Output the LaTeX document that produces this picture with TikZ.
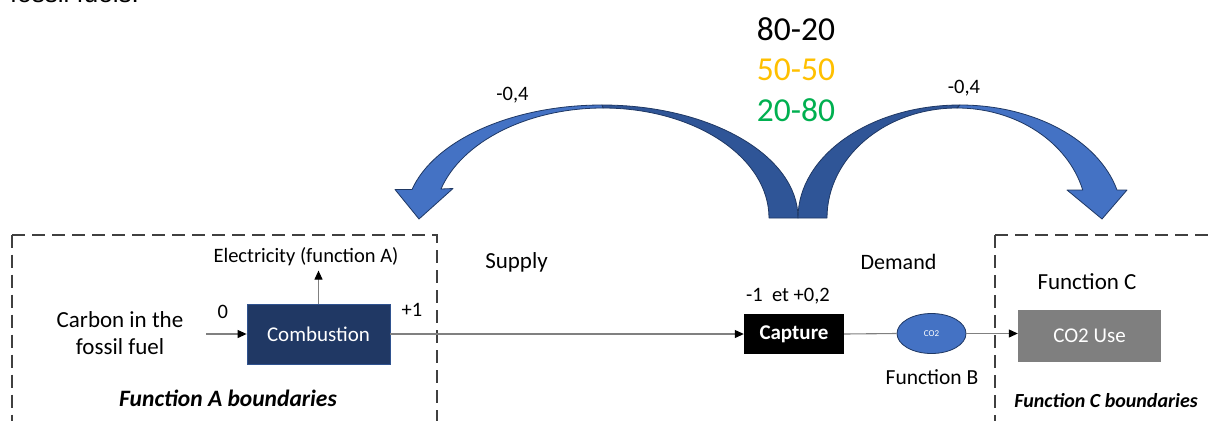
\documentclass[tikz,border=0pt]{standalone}
\usepackage{fontspec}
\setmainfont{Carlito}
\newfontfamily\arialfont{Liberation Sans}
\usetikzlibrary{arrows.meta,shapes.geometric}
\definecolor{navy}{HTML}{203864}
\definecolor{navyedge}{HTML}{2F528F}
\definecolor{arrowlight}{HTML}{4472C4}
\definecolor{arrowdark}{HTML}{2F5597}
\definecolor{arrowedge}{HTML}{1F3864}
\definecolor{gold}{HTML}{FFC000}
\definecolor{grn}{HTML}{00B050}
\definecolor{usegray}{HTML}{7F7F7F}
\definecolor{dashgray}{HTML}{404040}
\definecolor{linegray}{HTML}{808080}
\begin{document}
\begin{tikzpicture}[x=1pt,y=-1pt,
  lbl/.style={inner sep=0pt, text=black, font=\fontsize{20.5}{26}\selectfont},
  bound/.style={draw=dashgray, line width=2pt, dash pattern=on 13pt off 7pt},
  conn/.style={draw=linegray, line width=1.1pt, -{Triangle[length=9pt,width=8pt,color=black]}},
  plain/.style={draw=linegray, line width=1.1pt},
  procbox/.style={inner sep=0pt, text=white, font=\fontsize{21}{25}\selectfont},
  bigarrow/.style={draw=arrowedge, line width=0.8pt, line join=round}
]
\path[use as bounding box, clip] (0,0) rectangle (1209,421);
\fill[white] (0,0) rectangle (1209,421);

% cropped text at the top
\node[anchor=base west, inner sep=0pt, font=\arialfont\fontsize{26}{30}\selectfont] (topfrag) at (10,2) {fossil fuels.};

% boundaries
\draw[bound] (12,234.5) -- (12,421);
\draw[bound] (12,234.5) -- (436.5,234.5) -- (436.5,421);
\draw[bound] (995,235) -- (995,421);
\draw[bound] (995,235) -- (1209,235);

% scenario numbers
\node[lbl, font=\fontsize{33.5}{40}\selectfont] (s1) at (796,29) {80-20};
\node[lbl, font=\fontsize{33.5}{40}\selectfont, text=gold] (s2) at (796,70) {50-50};
\node[lbl, font=\fontsize{33.5}{40}\selectfont, text=grn] (s3) at (796,110) {20-80};

% left curved arrow
\filldraw[bigarrow, fill=arrowdark] (798,218) .. controls (798,155.6) and (710.2,105) .. (602,105)
  -- (603,108) .. controls (694.6,108) and (769,157.3) .. (769,218) -- cycle;
\filldraw[bigarrow, fill=arrowlight] (602,105) .. controls (512.5,105) and (434.3,140) .. (412,189.5)
  -- (395,189.5) -- (419,219) -- (453,188.5) -- (441,189)
  .. controls (461.7,141.7) and (527.6,108) .. (603,108) -- cycle;

% right curved arrow
\filldraw[bigarrow, fill=arrowdark] (798,218) .. controls (798,155.6) and (870.6,105) .. (960,105)
  -- (957,108) .. controls (885.2,108) and (827,157.3) .. (827,218) -- cycle;
\filldraw[bigarrow, fill=arrowlight] (960,105) .. controls (1034,105) and (1098.6,140) .. (1117,190)
  -- (1127,190) -- (1102,219) -- (1067,190) -- (1082.7,190)
  .. controls (1067.7,141.7) and (1016,108) .. (957,108) -- cycle;

\node[lbl] (wl) at (512.5,95) {-0,4};
\node[lbl] (wr) at (964,88) {-0,4};

% function A
\node[lbl, align=center, font=\fontsize{23}{27}\selectfont] (carbon) at (120,333) {Carbon in the\\fossil fuel};
\node[procbox, fill=navy, draw=navyedge, line width=0.8pt, minimum width=143pt, minimum height=60pt] (comb) at (318.5,334) {Combustion};
\coordinate (cin) at (206,334);
\draw[conn] (cin) -- (comb.west);
\node[lbl] (zero) at (222.7,312) {0};
\node[lbl] (elec) at (306,257) {Electricity (function A)};
\draw[conn] (comb.north) -- ++(0,-33);
\node[lbl] (plus1) at (412,310) {+1};
\node[lbl, font=\fontsize{23.5}{28}\bfseries\itshape] (fab) at (228,398) {Function A boundaries};

\node[lbl, font=\fontsize{23}{28}\selectfont] (supply) at (516.5,262) {Supply};
\node[lbl, font=\fontsize{22}{28}\selectfont] (demand) at (898.5,262) {Demand};

% capture
\node[procbox, fill=black, font=\fontsize{21}{25}\bfseries, minimum width=100pt, minimum height=40pt] (capt) at (794,334) {Capture};
\draw[conn] (comb.east) -- (capt.west);
\node[lbl] (capl) at (788,296) {-1\ \ et +0,2};

\node[ellipse, fill=arrowlight, draw=arrowedge, line width=0.8pt, minimum width=69pt, minimum height=40pt, inner sep=0pt, text=white, font=\fontsize{9}{10}\selectfont] (co2) at (931.5,333.5) {CO2};
\draw[plain] (capt.east) -- (co2.west);
\node[lbl, font=\fontsize{21.5}{26}\selectfont] (fb) at (932,377) {Function B};

% function C
\node[procbox, fill=usegray, minimum width=143pt, minimum height=52pt] (use) at (1089.5,336) {CO2 Use};
\draw[conn] (co2.east) -- (co2.east -| use.west);
\node[lbl, font=\fontsize{23}{28}\selectfont] (fc) at (1087,282) {Function C};
\node[lbl, font=\fontsize{20}{24}\bfseries\itshape] (fcb) at (1106,401) {Function C boundaries};
\end{tikzpicture}
\end{document}
